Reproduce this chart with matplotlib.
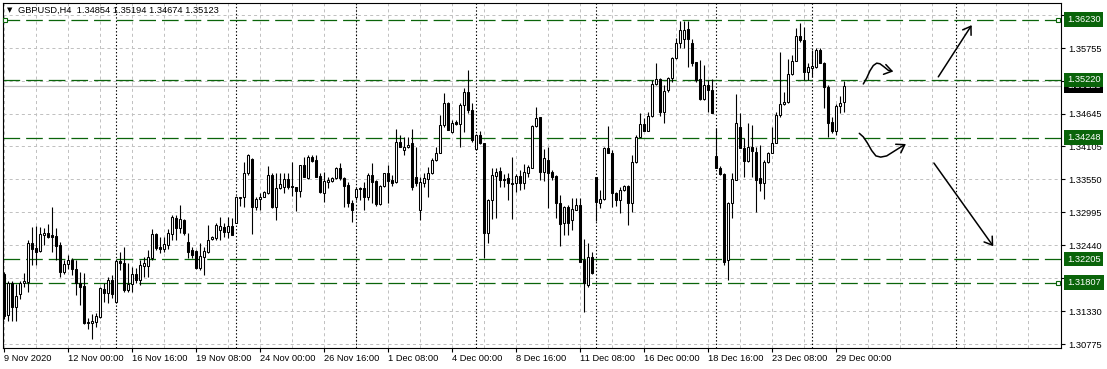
import matplotlib.pyplot as plt
import matplotlib.transforms as mtransforms
from matplotlib.patches import FancyArrowPatch
from matplotlib.path import Path

plt.rcParams['font.family'] = ['Liberation Sans', 'DejaVu Sans']
plt.rcParams['lines.scale_dashes'] = False

# GBPUSD H4 candles, 9 Nov 08:00 .. 29 Dec 08:00
opens = [
    1.3195, 1.3126, 1.3180, 1.3140, 1.3162, 1.3180, 1.3182, 1.3248, 1.3239, 1.3234,
    1.3261, 1.3264, 1.3261, 1.3259, 1.3244, 1.3199, 1.3212, 1.3219, 1.3204, 1.3180,
    1.3175, 1.3115, 1.3113, 1.3115, 1.3123, 1.3170, 1.3163, 1.3185, 1.3148, 1.3217,
    1.3214, 1.3168, 1.3179, 1.3195, 1.3185, 1.3209, 1.3209, 1.3222, 1.3263, 1.3241,
    1.3237, 1.3244, 1.3263, 1.3290, 1.3273, 1.3286, 1.3249, 1.3236, 1.3234, 1.3205,
    1.3224, 1.3232, 1.3254, 1.3256, 1.3269, 1.3274, 1.3266, 1.3276, 1.3281, 1.3323,
    1.3325, 1.3365, 1.3389, 1.3308, 1.3321, 1.3325, 1.3332, 1.3362, 1.3308, 1.3340,
    1.3342, 1.3355, 1.3343, 1.3342, 1.3335, 1.3379, 1.3357, 1.3392, 1.3387, 1.3360,
    1.3332, 1.3350, 1.3352, 1.3357, 1.3374, 1.3357, 1.3345, 1.3315, 1.3325, 1.3340,
    1.3340, 1.3325, 1.3362, 1.3352, 1.3313, 1.3343, 1.3365, 1.3353, 1.3350, 1.3417,
    1.3404, 1.3409, 1.3416, 1.3358, 1.3303, 1.3348, 1.3355, 1.3365, 1.3387, 1.3399,
    1.3446, 1.3483, 1.3434, 1.3451, 1.3448, 1.3480, 1.3501, 1.3471, 1.3406, 1.3429,
    1.3416, 1.3264, 1.3320, 1.3360, 1.3369, 1.3355, 1.3357, 1.3348, 1.3348, 1.3360,
    1.3348, 1.3365, 1.3374, 1.3444, 1.3459, 1.3367, 1.3387, 1.3367, 1.3360, 1.3315,
    1.3281, 1.3308, 1.3286, 1.3303, 1.3311, 1.3219, 1.3177, 1.3224, 1.3358, 1.3315,
    1.3321, 1.3407, 1.3399, 1.3332, 1.3320, 1.3337, 1.3343, 1.3315, 1.3384, 1.3426,
    1.3448, 1.3436, 1.3461, 1.3515, 1.3523, 1.3468, 1.3505, 1.3525, 1.3559, 1.3584,
    1.3591, 1.3607, 1.3584, 1.3552, 1.3523, 1.3490, 1.3513, 1.3505, 1.3394, 1.3374,
    1.3364, 1.3219, 1.3315, 1.3353, 1.3443, 1.3407, 1.3385, 1.3409, 1.3401, 1.3357,
    1.3348, 1.3384, 1.3399, 1.3416, 1.3463, 1.3481, 1.3485, 1.3532, 1.3554, 1.3596,
    1.3589, 1.3535, 1.3542, 1.3544, 1.3572, 1.3550, 1.3510, 1.3451, 1.3436, 1.3478,
    1.34854,
]
highs = [
    1.3199, 1.3184, 1.3184, 1.3179, 1.3184, 1.3197, 1.3253, 1.3274, 1.3276, 1.3274,
    1.3273, 1.3279, 1.3308, 1.3273, 1.3249, 1.3219, 1.3227, 1.3222, 1.3219, 1.3199,
    1.3197, 1.3121, 1.3128, 1.3130, 1.3173, 1.3180, 1.3190, 1.3194, 1.3221, 1.3232,
    1.3241, 1.3214, 1.3207, 1.3205, 1.3219, 1.3224, 1.3236, 1.3271, 1.3264, 1.3258,
    1.3258, 1.3271, 1.3295, 1.3295, 1.3311, 1.3288, 1.3264, 1.3241, 1.3236, 1.3248,
    1.3241, 1.3278, 1.3259, 1.3281, 1.3291, 1.3281, 1.3291, 1.3290, 1.3327, 1.3325,
    1.3384, 1.3397, 1.3390, 1.3325, 1.3332, 1.3335, 1.3377, 1.3365, 1.3365, 1.3365,
    1.3365, 1.3365, 1.3384, 1.3342, 1.3379, 1.3392, 1.3395, 1.3395, 1.3395, 1.3365,
    1.3367, 1.3358, 1.3358, 1.3375, 1.3382, 1.3358, 1.3350, 1.3320, 1.3342, 1.3342,
    1.3350, 1.3365, 1.3382, 1.3353, 1.3345, 1.3365, 1.3379, 1.3362, 1.3439, 1.3429,
    1.3426, 1.3426, 1.3439, 1.3409, 1.3358, 1.3365, 1.3375, 1.3390, 1.3409, 1.3463,
    1.3500, 1.3485, 1.3454, 1.3454, 1.3483, 1.3508, 1.3538, 1.3483, 1.3431, 1.3436,
    1.3416, 1.3321, 1.3374, 1.3374, 1.3375, 1.3364, 1.3365, 1.3392, 1.3364, 1.3370,
    1.3380, 1.3379, 1.3446, 1.3476, 1.3459, 1.3406, 1.3409, 1.3370, 1.3362, 1.3328,
    1.3310, 1.3311, 1.3323, 1.3323, 1.3323, 1.3254, 1.3248, 1.3232, 1.3358, 1.3337,
    1.3409, 1.3444, 1.3404, 1.3333, 1.3342, 1.3345, 1.3345, 1.3395, 1.3429, 1.3466,
    1.3458, 1.3468, 1.3522, 1.3550, 1.3525, 1.3513, 1.3527, 1.3560, 1.3592, 1.3621,
    1.3621, 1.3621, 1.3591, 1.3552, 1.3555, 1.3547, 1.3522, 1.3523, 1.3441, 1.3377,
    1.3365, 1.3316, 1.3365, 1.3498, 1.3466, 1.3424, 1.3449, 1.3446, 1.3409, 1.3412,
    1.3387, 1.3401, 1.3443, 1.3468, 1.3569, 1.3501, 1.3557, 1.3564, 1.3609, 1.3618,
    1.3611, 1.3550, 1.3572, 1.3575, 1.3575, 1.3552, 1.3513, 1.3459, 1.3481, 1.3495,
    1.35194,
]
lows = [
    1.3120, 1.3116, 1.3116, 1.3116, 1.3153, 1.3173, 1.3165, 1.3210, 1.3210, 1.3232,
    1.3244, 1.3256, 1.3232, 1.3219, 1.3190, 1.3195, 1.3204, 1.3194, 1.3160, 1.3143,
    1.3111, 1.3103, 1.3086, 1.3106, 1.3121, 1.3148, 1.3147, 1.3155, 1.3147, 1.3202,
    1.3165, 1.3165, 1.3165, 1.3180, 1.3177, 1.3190, 1.3190, 1.3219, 1.3236, 1.3231,
    1.3232, 1.3237, 1.3253, 1.3253, 1.3264, 1.3261, 1.3222, 1.3222, 1.3204, 1.3202,
    1.3194, 1.3231, 1.3253, 1.3253, 1.3253, 1.3258, 1.3256, 1.3261, 1.3281, 1.3310,
    1.3308, 1.3362, 1.3263, 1.3303, 1.3303, 1.3325, 1.3330, 1.3306, 1.3286, 1.3338,
    1.3332, 1.3338, 1.3327, 1.3301, 1.3325, 1.3358, 1.3355, 1.3384, 1.3358, 1.3332,
    1.3316, 1.3340, 1.3350, 1.3355, 1.3353, 1.3308, 1.3308, 1.3283, 1.3320, 1.3320,
    1.3303, 1.3320, 1.3315, 1.3310, 1.3311, 1.3342, 1.3315, 1.3343, 1.3348, 1.3409,
    1.3395, 1.3407, 1.3337, 1.3343, 1.3286, 1.3342, 1.3325, 1.3364, 1.3385, 1.3399,
    1.3443, 1.3438, 1.3432, 1.3446, 1.3409, 1.3434, 1.3466, 1.3417, 1.3404, 1.3414,
    1.3222, 1.3248, 1.3288, 1.3290, 1.3342, 1.3342, 1.3320, 1.3288, 1.3333, 1.3337,
    1.3338, 1.3358, 1.3374, 1.3443, 1.3353, 1.3352, 1.3306, 1.3353, 1.3290, 1.3242,
    1.3261, 1.3261, 1.3269, 1.3303, 1.3216, 1.3131, 1.3173, 1.3195, 1.3284, 1.3306,
    1.3320, 1.3399, 1.3308, 1.3310, 1.3298, 1.3335, 1.3278, 1.3300, 1.3382, 1.3426,
    1.3436, 1.3436, 1.3459, 1.3513, 1.3461, 1.3449, 1.3501, 1.3518, 1.3557, 1.3575,
    1.3575, 1.3544, 1.3545, 1.3518, 1.3488, 1.3488, 1.3468, 1.3466, 1.3374, 1.3362,
    1.3210, 1.3185, 1.3290, 1.3353, 1.3407, 1.3358, 1.3384, 1.3358, 1.3300, 1.3335,
    1.3321, 1.3382, 1.3399, 1.3416, 1.3459, 1.3480, 1.3483, 1.3530, 1.3554, 1.3586,
    1.3522, 1.3522, 1.3527, 1.3542, 1.3550, 1.3475, 1.3426, 1.3432, 1.3429, 1.3466,
    1.34674,
]
closes = [
    1.3125, 1.3180, 1.3140, 1.3158, 1.3180, 1.3184, 1.3248, 1.3237, 1.3232, 1.3263,
    1.3264, 1.3258, 1.3258, 1.3242, 1.3199, 1.3212, 1.3219, 1.3204, 1.3180, 1.3173,
    1.3113, 1.3113, 1.3116, 1.3125, 1.3172, 1.3163, 1.3185, 1.3162, 1.3217, 1.3214,
    1.3168, 1.3179, 1.3195, 1.3185, 1.3210, 1.3214, 1.3224, 1.3263, 1.3239, 1.3237,
    1.3246, 1.3264, 1.3291, 1.3273, 1.3288, 1.3264, 1.3232, 1.3227, 1.3205, 1.3226,
    1.3234, 1.3253, 1.3258, 1.3278, 1.3276, 1.3266, 1.3276, 1.3261, 1.3325, 1.3325,
    1.3365, 1.3395, 1.3308, 1.3321, 1.3325, 1.3333, 1.3362, 1.3308, 1.3340, 1.3347,
    1.3355, 1.3342, 1.3342, 1.3335, 1.3379, 1.3358, 1.3392, 1.3385, 1.3358, 1.3333,
    1.3352, 1.3353, 1.3357, 1.3374, 1.3357, 1.3343, 1.3315, 1.3303, 1.3338, 1.3338,
    1.3325, 1.3362, 1.3350, 1.3313, 1.3343, 1.3365, 1.3352, 1.3348, 1.3417, 1.3409,
    1.3409, 1.3412, 1.3342, 1.3348, 1.3350, 1.3357, 1.3365, 1.3387, 1.3399, 1.3446,
    1.3483, 1.3438, 1.3449, 1.3448, 1.3480, 1.3501, 1.3471, 1.3421, 1.3429, 1.3416,
    1.3264, 1.3320, 1.3362, 1.3367, 1.3353, 1.3353, 1.3348, 1.3347, 1.3360, 1.3348,
    1.3367, 1.3375, 1.3444, 1.3458, 1.3367, 1.3390, 1.3365, 1.3358, 1.3315, 1.3279,
    1.3308, 1.3281, 1.3305, 1.3311, 1.3216, 1.3180, 1.3224, 1.3197, 1.3316, 1.3321,
    1.3407, 1.3399, 1.3332, 1.3320, 1.3337, 1.3343, 1.3315, 1.3384, 1.3426, 1.3448,
    1.3436, 1.3461, 1.3515, 1.3523, 1.3468, 1.3503, 1.3525, 1.3559, 1.3584, 1.3606,
    1.3606, 1.3591, 1.3550, 1.3522, 1.3490, 1.3513, 1.3505, 1.3466, 1.3374, 1.3364,
    1.3216, 1.3315, 1.3355, 1.3449, 1.3407, 1.3385, 1.3409, 1.3402, 1.3353, 1.3348,
    1.3384, 1.3399, 1.3416, 1.3463, 1.3481, 1.3485, 1.3532, 1.3554, 1.3596, 1.3589,
    1.3535, 1.3544, 1.3545, 1.3572, 1.3550, 1.3510, 1.3449, 1.3436, 1.3478, 1.3483,
    1.35123,
]

tick_pos = [0, 16, 32, 48, 64, 80, 96, 112, 128, 144, 160, 176, 192, 208]
tick_labels = ['9 Nov 2020', '12 Nov 00:00', '16 Nov 16:00', '19 Nov 08:00',
               '24 Nov 00:00', '26 Nov 16:00', '1 Dec 08:00', '4 Dec 00:00',
               '8 Dec 16:00', '11 Dec 08:00', '16 Dec 00:00', '18 Dec 16:00',
               '23 Dec 08:00', '29 Dec 00:00']
grid_pos = list(range(0, 264, 8))
week_starts = [28, 58, 88, 118, 148, 178, 202, 238]

price_ticks = [1.36310, 1.35755, 1.35200, 1.34645, 1.34105, 1.33550,
               1.32995, 1.32440, 1.31885, 1.31330, 1.30775]
levels = [1.36230, 1.35220, 1.34248, 1.32205, 1.31807]
header = 'GBPUSD,H4  1.34854 1.35194 1.34674 1.35123'

# hand drawn scenario arrows (bar index, price)
wave_up_k = [214.95, 215.8, 216.6, 217.45, 218.3, 219.1, 220.1, 221.2, 222.45]
wave_up_p = [1.3515, 1.3525, 1.3537, 1.3546, 1.3550, 1.3549, 1.3544, 1.3538, 1.3536]
wave_dn_k = [213.95, 214.95, 215.95, 217.05, 218.1, 219.3, 220.8, 222.45, 224.1, 225.6]
wave_dn_p = [1.3432, 1.3426, 1.3416, 1.3403, 1.3394, 1.3392, 1.3394, 1.3401, 1.3408, 1.3414]
line_up_k, line_up_p = [233.7, 242.05], [1.3527, 1.3614]
line_dn_k, line_dn_p = [232.6, 247.45], [1.3382, 1.3242]

GREEN = '#0a640a'
GRID = '#c0c0c0'

fig = plt.figure(figsize=(11.07, 3.69), dpi=100)
ax = fig.add_axes([2.7 / 1107, 21 / 369, 1057.8 / 1107, 345.3 / 369])
ax.set_xlim(-0.2, 264.25)
ax.set_ylim(1.30709, 1.36517)

for g in grid_pos:
    ax.axvline(g, color=GRID, lw=0.7, ls=(0, (2.2, 2.2)), zorder=1)
for p in price_ticks:
    ax.axhline(p, color=GRID, lw=0.7, ls=(0, (2.2, 2.2)), zorder=1)
ax.axhline(closes[-1], color=GRID, lw=0.9, zorder=1.5)
for s in week_starts:
    ax.axvline(s, color='black', lw=0.8, ls=(0, (1.0, 1.5)), zorder=2)
for lv in levels:
    ax.axhline(lv, color=GREEN, lw=0.9, ls=(0, (12, 4.3)), zorder=2)

idx = list(range(len(opens)))
bottoms = [min(o, c) for o, c in zip(opens, closes)]
heights = [abs(c - o) for o, c in zip(opens, closes)]
fills = ['white' if c >= o else 'black' for o, c in zip(opens, closes)]
ax.vlines(idx, lows, highs, color='black', lw=0.8, zorder=3)
ax.bar(idx, heights, bottom=bottoms, width=0.5, color=fills,
       edgecolor='black', linewidth=0.75, zorder=4)

for ks, ps in [(wave_up_k, wave_up_p), (wave_dn_k, wave_dn_p),
               (line_up_k, line_up_p), (line_dn_k, line_dn_p)]:
    arr = FancyArrowPatch(path=Path(list(zip(ks, ps))),
                          arrowstyle='->,head_length=0.45,head_width=0.3',
                          mutation_scale=12, color='black', lw=1.1, zorder=5)
    ax.add_patch(arr)

# axes look
for sp in ax.spines.values():
    sp.set_color('black')
    sp.set_linewidth(0.8)
ax.yaxis.tick_right()
ax.set_yticks(price_ticks)
ax.set_yticklabels([f'{v:.5f}' for v in price_ticks])
ax.tick_params(axis='y', length=3, width=0.8, pad=2.5, labelsize=6.7)
ax.set_xticks(tick_pos)
ax.set_xticklabels(tick_labels, ha='left')
ax.tick_params(axis='x', length=3, width=0.8, pad=1.5, labelsize=6.7)

# price boxes on the right scale
trans = mtransforms.blended_transform_factory(fig.transFigure, ax.transData)
lab_x = 1067 / 1107
ax.text(lab_x, closes[-1], f'{closes[-1]:.5f}', transform=trans,
        color='white', fontsize=6.7, va='center', ha='left', clip_on=False,
        bbox=dict(boxstyle='square,pad=0.3', fc='black', ec='none'), zorder=6)
for lv in levels:
    ax.text(lab_x, lv, f'{lv:.5f}', transform=trans, color='white',
            fontsize=6.7, va='center', ha='left', clip_on=False,
            bbox=dict(boxstyle='square,pad=0.3', fc=GREEN, ec='none'), zorder=7)

htrans = mtransforms.blended_transform_factory(ax.transAxes, ax.transData)
ax.plot([0.0025], [levels[0]], transform=htrans, marker='s', ms=3.2,
        mfc='white', mec=GREEN, mew=0.8, clip_on=False, zorder=8)
ax.plot([0.9975, 0.9975], [levels[0], levels[-1]], transform=htrans, ls='none',
        marker='s', ms=3.2, mfc='white', mec=GREEN, mew=0.8, clip_on=False, zorder=8)

fig.text(7 / 1107, 1 - 10 / 369, '\u25bc', fontsize=5, family='DejaVu Sans', va='center')
fig.text(18 / 1107, 1 - 10 / 369, header, fontsize=6.7, va='center')

fig.savefig('out.png', dpi=100)
